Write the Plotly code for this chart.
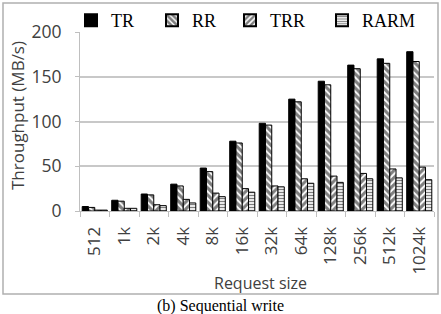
import plotly.graph_objects as go

categories = ["512", "1k", "2k", "4k", "8k", "16k", "32k", "64k", "128k", "256k", "512k", "1024k"]
series_names = ["TR", "RR", "TRR", "RARM"]
tr = [5, 12, 19, 30, 48, 78, 98, 125, 145, 163, 170, 178]
rr = [4, 11, 18, 28, 44, 76, 96, 122, 141, 159, 165, 167]
trr = [1, 3, 7, 13, 20, 25, 28, 36, 39, 42, 47, 49]
rarm = [1, 3, 6, 9, 16, 21, 27, 31, 32, 36, 37, 35]
y_ticks = [0, 50, 100, 150, 200]

styles = {
    "TR": dict(color="black", line=dict(color="black", width=1)),
    "RR": dict(color="white", line=dict(color="black", width=1),
               pattern=dict(shape="\\", fgcolor="black", bgcolor="white", size=5, solidity=0.65)),
    "TRR": dict(color="white", line=dict(color="black", width=1),
                pattern=dict(shape="/", fgcolor="black", bgcolor="white", size=5, solidity=0.6)),
    "RARM": dict(color="white", line=dict(color="black", width=1),
                 pattern=dict(shape="-", fgcolor="black", bgcolor="white", size=3, solidity=0.45)),
}

W, H = 441, 314
L, R, T, B = 80, 7, 32, 103
pw, ph = W - L - R, H - T - B

def px_x(p):
    return (p - L) / pw

def px_y(p):
    return (H - B - p) / ph

legend_ids = ["legend", "legend2", "legend3", "legend4"]
legend_left = [71, 152, 230, 322]

fig = go.Figure()
for name, vals, lid in zip(series_names, [tr, rr, trr, rarm], legend_ids):
    fig.add_trace(go.Bar(x=categories, y=vals, name=name, marker=styles[name], legend=lid))

axis_font = dict(family="Open Sans", color="#404040")

legend_layout = {}
for lid, lx in zip(legend_ids, legend_left):
    legend_layout[lid] = dict(x=px_x(lx), y=px_y(2), xanchor="left", yanchor="top",
                              font=dict(family="Liberation Serif", size=18, color="black"),
                              itemsizing="constant", bgcolor="rgba(0,0,0,0)")

fig.update_layout(
    width=W, height=H,
    margin=dict(l=L, r=R, t=T, b=B, autoexpand=False),
    paper_bgcolor="white", plot_bgcolor="white",
    barmode="group", bargap=0.15, bargroupgap=0,
    showlegend=True,
    xaxis=dict(type="category", tickangle=-90, showline=True, linecolor="#bfbfbf", linewidth=1,
               ticks="outside", tickson="boundaries", ticklen=5, tickcolor="#bfbfbf",
               ticklabelstandoff=8, automargin=False,
               tickfont=dict(size=17, **axis_font), showgrid=False),
    yaxis=dict(range=[0, 200], tickvals=y_ticks, showline=True, linecolor="#bfbfbf", linewidth=1,
               ticks="outside", ticklen=4, tickcolor="#bfbfbf", ticklabelstandoff=10,
               automargin=False,
               gridcolor="#c8c8c8", gridwidth=1.5, zeroline=False,
               tickfont=dict(size=17.5, **axis_font)),
    **legend_layout,
)

# axis titles
fig.add_annotation(text="Request size", xref="paper", yref="paper",
                   x=px_x(260), y=px_y(283), xanchor="center", yanchor="middle",
                   showarrow=False, font=dict(size=16, **axis_font))
fig.add_annotation(text="Throughput (MB/s)", xref="paper", yref="paper", textangle=-90,
                   x=px_x(18), y=px_y(116), xanchor="center", yanchor="middle",
                   showarrow=False, font=dict(size=17, **axis_font))

# outer chart frame
fig.add_shape(type="rect", xref="paper", yref="paper",
              x0=px_x(3), x1=px_x(438), y0=px_y(294), y1=px_y(3),
              line=dict(color="#b0b0b0", width=1.5), fillcolor="rgba(0,0,0,0)", layer="below")

# caption
fig.add_annotation(text="(b) Sequential write", xref="paper", yref="paper",
                   x=px_x(220), y=px_y(306), xanchor="center", yanchor="middle",
                   showarrow=False, font=dict(family="Liberation Serif", size=16, color="black"))

fig.write_html("out.html")
